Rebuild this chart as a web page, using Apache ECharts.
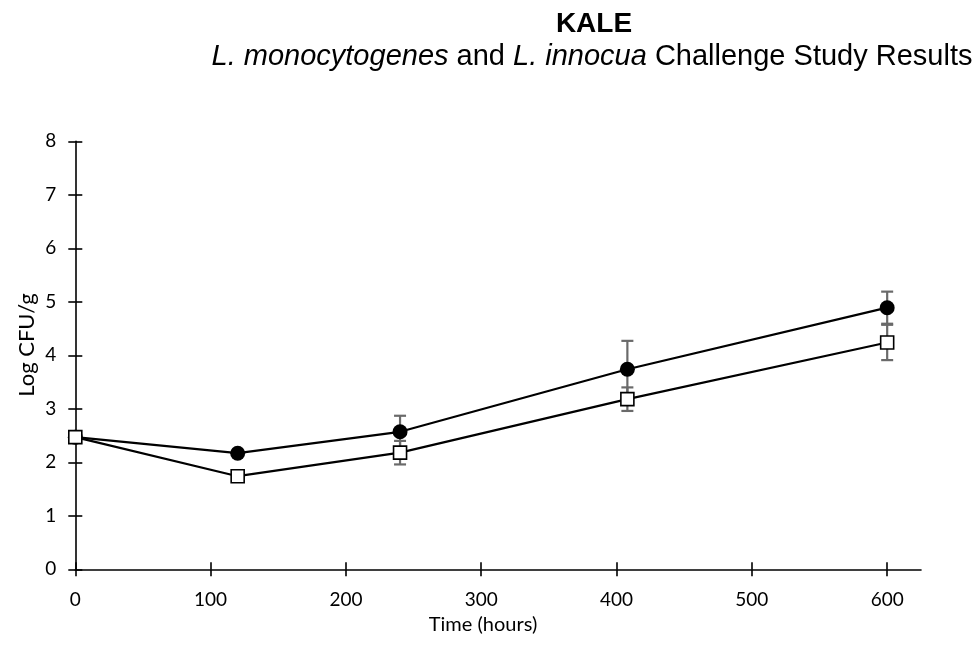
<!DOCTYPE html>
<html>
<head>
<meta charset="utf-8">
<script src="https://cdn.jsdelivr.net/npm/echarts@6/dist/echarts.min.js"></script>
<style>
  html, body { margin: 0; padding: 0; background: #ffffff; }
  #chart { width: 979px; height: 651px; }
</style>
</head>
<body>
<div id="chart"></div>
<script>
// Sampling times (hours)
const hours = [0, 120, 240, 408, 600];
// Mean log counts (filled circles / open squares)
const monocytogenes = [2.47, 2.17, 2.57, 3.74, 4.89];
const innocua = [2.47, 1.74, 2.18, 3.18, 4.24];
// Standard deviations
const monocytogenesSD = [0, 0, 0.30, 0.53, 0.30];
const innocuaSD = [0, 0, 0.22, 0.22, 0.33];
// Axis ticks
const xTicks = [0, 100, 200, 300, 400, 500, 600];
const yTicks = [0, 1, 2, 3, 4, 5, 6, 7, 8];

const labelFont = 'Lato, "Open Sans", sans-serif';
const titleFont = '"Liberation Sans", Arial, sans-serif';

function pairs(xs, ys) { return xs.map((x, i) => [x, ys[i]]); }
function errRows(xs, ys, sd) {
  return xs.map((x, i) => [x, ys[i] - sd[i], ys[i] + sd[i], sd[i]]);
}

function errorBars(api) {
  const sd = api.value(3);
  if (!sd) return null;
  const lo = api.coord([api.value(0), api.value(1)]);
  const hi = api.coord([api.value(0), api.value(2)]);
  const cap = 6;
  const style = { stroke: '#6a6a6a', lineWidth: 2.2, fill: null };
  return {
    type: 'group',
    children: [
      { type: 'line', shape: { x1: lo[0], y1: lo[1], x2: hi[0], y2: hi[1] }, style },
      { type: 'line', shape: { x1: hi[0] - cap, y1: hi[1], x2: hi[0] + cap, y2: hi[1] }, style },
      { type: 'line', shape: { x1: lo[0] - cap, y1: lo[1], x2: lo[0] + cap, y2: lo[1] }, style }
    ]
  };
}

const axisLine = { show: true, lineStyle: { color: '#000', width: 1.6 } };
const tickStyle = { color: '#000', width: 1.6 };

const xBase = { type: 'value', min: 0, max: 625, interval: 100, splitLine: { show: false } };
const yBase = { type: 'value', min: 0, max: 8, interval: 1, splitLine: { show: false } };

const chart = echarts.init(document.getElementById('chart'), null, { renderer: 'canvas' });
chart.setOption({
  backgroundColor: '#ffffff',
  animation: false,
  grid: { left: 75.3, right: 58, top: 141.3, bottom: 81.7, containLabel: false },
  xAxis: [
    Object.assign({}, xBase, {
      position: 'bottom',
      axisLine: axisLine,
      axisTick: { show: true, length: 7, lineStyle: tickStyle, customValues: xTicks },
      axisLabel: { show: true, customValues: xTicks, margin: 21, color: '#000', fontSize: 19, fontFamily: labelFont }
    }),
    Object.assign({}, xBase, {
      position: 'bottom',
      axisLine: { show: false },
      axisTick: { show: true, inside: true, length: 7, lineStyle: tickStyle, customValues: xTicks },
      axisLabel: { show: false }
    })
  ],
  yAxis: [
    Object.assign({}, yBase, {
      position: 'left',
      axisLine: axisLine,
      axisTick: { show: true, length: 7, lineStyle: tickStyle, customValues: yTicks },
      axisLabel: { show: true, customValues: yTicks, margin: 19, color: '#000', fontSize: 19, fontFamily: labelFont }
    }),
    Object.assign({}, yBase, {
      position: 'left',
      axisLine: { show: false },
      axisTick: { show: true, inside: true, length: 7, lineStyle: tickStyle, customValues: yTicks },
      axisLabel: { show: false }
    })
  ],
  graphic: [
    {
      type: 'text', x: 594, y: 24.5, z: 10,
      style: { text: 'KALE', font: 'bold 28px ' + titleFont, fill: '#000', align: 'center', verticalAlign: 'middle' }
    },
    {
      type: 'text', x: 592, y: 57, z: 10,
      style: {
        text: '{i|L. monocytogenes} and {i|L. innocua} Challenge Study Results',
        font: '29px ' + titleFont, fill: '#000', align: 'center', verticalAlign: 'middle',
        rich: { i: { fontStyle: 'italic', fontSize: 29, fontFamily: titleFont } }
      }
    },
    {
      type: 'text', x: 483, y: 625, z: 10,
      style: { text: 'Time (hours)', font: '20px ' + labelFont, fill: '#000', align: 'center', verticalAlign: 'middle' }
    },
    {
      type: 'text', x: 27, y: 345, rotation: Math.PI / 2, z: 10,
      style: { text: 'Log CFU/g', font: '22px ' + labelFont, fill: '#000', align: 'center', verticalAlign: 'middle' }
    }
  ],
  series: [
    {
      type: 'custom', name: 'sd-mono', xAxisIndex: 0, yAxisIndex: 0, z: 1,
      renderItem: (params, api) => errorBars(api),
      encode: { x: 0, y: [1, 2] },
      data: errRows(hours, monocytogenes, monocytogenesSD)
    },
    {
      type: 'custom', name: 'sd-innocua', xAxisIndex: 0, yAxisIndex: 0, z: 1,
      renderItem: (params, api) => errorBars(api),
      encode: { x: 0, y: [1, 2] },
      data: errRows(hours, innocua, innocuaSD)
    },
    {
      type: 'line', name: 'L. monocytogenes', xAxisIndex: 0, yAxisIndex: 0, z: 3,
      data: pairs(hours, monocytogenes),
      symbol: 'circle', symbolSize: 15,
      lineStyle: { color: '#000', width: 2.2 },
      itemStyle: { color: '#000', borderColor: '#000', borderWidth: 0 }
    },
    {
      type: 'line', name: 'L. innocua', xAxisIndex: 0, yAxisIndex: 0, z: 4,
      data: pairs(hours, innocua),
      symbol: 'rect', symbolSize: 13,
      lineStyle: { color: '#000', width: 2.2 },
      itemStyle: { color: '#fff', borderColor: '#000', borderWidth: 1.6 }
    }
  ]
});
</script>
</body>
</html>
